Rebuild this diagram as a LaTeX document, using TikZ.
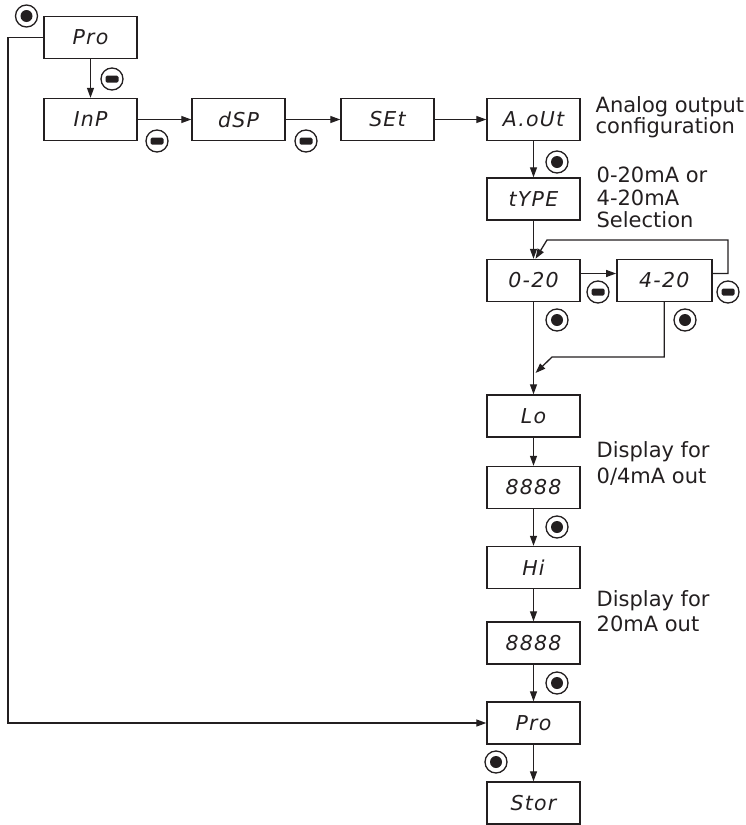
\documentclass[tikz,border=0pt]{standalone}
\usepackage{fontspec}
\setmainfont{DejaVu Sans}
\newfontfamily\segfamily{DejaVu Sans}[LetterSpace=6]
\usetikzlibrary{arrows.meta}
\definecolor{ink}{HTML}{231F20}
\newcommand{\segtext}{\segfamily\itshape\fontsize{20.5}{20.5}\selectfont}
\begin{document}
\begin{tikzpicture}[x=1pt,y=-1pt, line width=1.3pt, draw=ink, text=ink,
  arr/.style={draw=ink, -{Triangle[length=10pt,width=7pt]}},
  dbox/.style={draw=ink, line width=1.4pt, minimum width=93pt, minimum height=42pt, inner sep=0pt, font=\segtext},
  note/.style={anchor=base west, inner sep=0pt, font=\fontsize{21}{24}\selectfont},
  selbtn/.style={circle, draw=ink, line width=1.3pt, minimum size=22pt, inner sep=0pt,
    path picture={\fill[ink] (path picture bounding box.center) circle (6pt);}},
  minbtn/.style={circle, draw=ink, line width=1.3pt, minimum size=22pt, inner sep=0pt,
    path picture={\fill[ink, rounded corners=1.5pt] ([shift={(-6.5pt,-3.5pt)}]path picture bounding box.center) rectangle ([shift={(6.5pt,3.5pt)}]path picture bounding box.center);}}]
\useasboundingbox (0,0) rectangle (745,825);

% display boxes
\node[dbox] (pro1) at (90.5,37.5) {Pro};
\node[dbox] (inp)  at (90.5,119.5) {InP};
\node[dbox] (dsp)  at (238.5,119.5) {dSP};
\node[dbox] (set)  at (387.5,119.5) {SEt};
\node[dbox] (aout) at (533.5,119.5) {A.oUt};
\node[dbox] (type) at (533.5,199) {tYPE};
\node[dbox] (z20)  at (533.5,280.5) {0-20};
\node[dbox, minimum width=95pt] (f20) at (664.3,280.5) {4-20};
\node[dbox] (lo)   at (533.5,416) {Lo};
\node[dbox] (e1)   at (533.5,487.5) {8888};
\node[dbox] (hi)   at (533.5,567.5) {Hi};
\node[dbox] (e2)   at (533.5,643) {8888};
\node[dbox] (pro2) at (533.5,723) {Pro};
\node[dbox] (stor) at (533.5,803) {Stor};

% connectors
\coordinate (lc) at (8,37.5);
\draw[arr] (pro1.west) -- (lc) |- (pro2.west);
\draw[arr] (pro1.south) -- (inp.north);
\draw[arr] (inp.east) -- (dsp.west);
\draw[arr] (dsp.east) -- (set.west);
\draw[arr] (set.east) -- (aout.west);
\draw[arr] (aout.south) -- (type.north);
\draw[arr] (type.south) -- (z20.north);
\draw[arr] ([yshift=7pt]z20.east) -- ([yshift=7pt]f20.west);
\coordinate (lr) at (728,240);
\coordinate (lk) at (547,240);
\draw[arr] ([yshift=7pt]f20.east) -| (lr) -- (lk) -- ([xshift=2pt]z20.north);
\draw[arr] (z20.south) -- (lo.north);
\coordinate (lm) at (552,357);
\coordinate (lt) at (535.5,373);
\draw[arr] (f20.south) |- (lm) -- (lt);
\draw[arr] (lo.south) -- (e1.north);
\draw[arr] (e1.south) -- (hi.north);
\draw[arr] (hi.south) -- (e2.north);
\draw[arr] (e2.south) -- (pro2.north);
\draw[arr] (pro2.south) -- (stor.north);

% button icons
\node[selbtn] (s0) at (26.5,16) {};
\node[minbtn] (m1) at (112,79) {};
\node[minbtn] (m2) at (157,141) {};
\node[minbtn] (m3) at (306,141) {};
\node[selbtn] (s1) at (557,162) {};
\node[minbtn] (m4) at (598,292) {};
\node[minbtn] (m5) at (728,292) {};
\node[selbtn] (s2) at (557,320) {};
\node[selbtn] (s3) at (685,320) {};
\node[selbtn] (s4) at (557,527) {};
\node[selbtn] (s5) at (557,683) {};
\node[selbtn] (s6) at (496,762) {};

% notes
\node[note] (t1) at (595,112) {Analog output};
\node[note] (t2) at (595,133) {configuration};
\node[note] (t3) at (596,182) {0-20mA or};
\node[note] (t4) at (596,205) {4-20mA};
\node[note] (t5) at (596,227) {Selection};
\node[note] (t6) at (596,457) {Display for};
\node[note] (t7) at (596,483) {0/4mA out};
\node[note] (t8) at (596,606) {Display for};
\node[note] (t9) at (596,631) {20mA out};
\end{tikzpicture}
\end{document}
